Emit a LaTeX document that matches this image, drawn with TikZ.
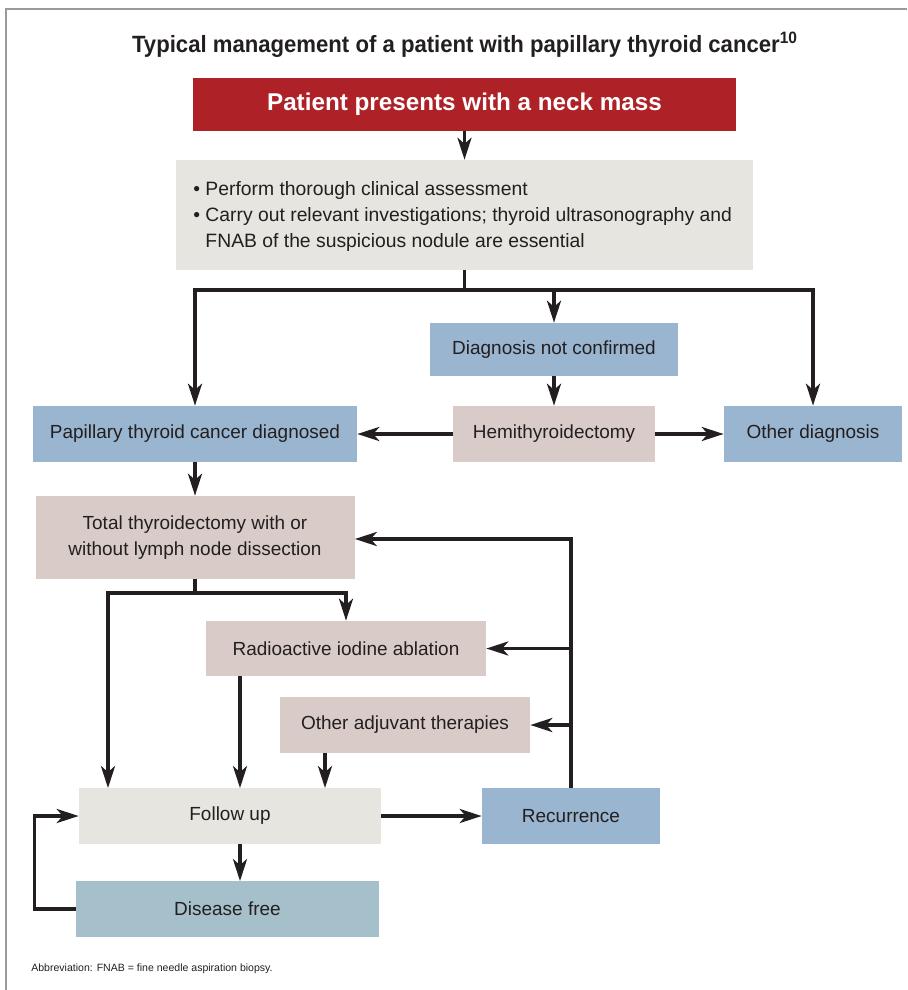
\documentclass[tikz,border=0pt]{standalone}
\usepackage{fontspec}
\setmainfont{Liberation Sans}
\newfontfamily\headfont{Liberation Sans}[FakeStretch=0.94]
\usetikzlibrary{arrows.meta}

\definecolor{ink}{HTML}{231F20}
\definecolor{alarm}{HTML}{AE2127}
\definecolor{stone}{HTML}{E6E5DF}
\definecolor{slate}{HTML}{9AB5CF}
\definecolor{blush}{HTML}{D9CCC8}
\definecolor{teal}{HTML}{A6C0CB}
\definecolor{frame}{HTML}{9A9A9A}

\tikzset{
  box/.style 2 args={draw=none, inner sep=0pt, align=center, text=ink,
    minimum width=#1*0.02cm, minimum height=#2*0.02cm,
    font=\fontsize{10.8}{15}\selectfont},
  link/.style={draw=ink, line width=1.9pt},
  arr/.style={link, -{Stealth[length=12.5pt,width=8pt,inset=3.5pt]}}
}

\begin{document}
\begin{tikzpicture}[x=0.02cm, y=-0.02cm]
  \useasboundingbox (0,0) rectangle (907,990);

  % Frame
    \draw[frame, line width=0.8pt] (6,990) -- (6,9) -- (907,9);

  % Title
    \node[text=ink, font=\headfont\bfseries\fontsize{13.4}{15}\selectfont] (title) at (465,45)
      {Typical management of a patient with papillary thyroid cancer\textsuperscript{10}};

  % Boxes
    \node[box={543}{53}, fill=alarm, text=white, font=\bfseries\fontsize{13.8}{15}\selectfont]
      (mass) at (464.5,104.5) {Patient presents with a neck mass};
    \node[box={577}{110}, fill=stone] (assess) at (464.5,215) {};
    \node[text=ink, anchor=west, inner sep=0pt, align=left,
      font=\fontsize{11}{15}\selectfont] (bullets) at (193,216.5)
      {\textbullet\ Perform thorough clinical assessment\\
       \textbullet\ Carry out relevant investigations; thyroid ultrasonography and\\
       \hphantom{\textbullet\ }FNAB of the suspicious nodule are essential};
    \node[box={248}{53}, fill=slate] (notconf) at (554,349.5) {Diagnosis not confirmed};
    \node[box={202}{56}, fill=blush] (hemi) at (554,434) {Hemithyroidectomy};
    \node[box={324}{56}, fill=slate] (ptc) at (195,434) {Papillary thyroid cancer diagnosed};
    \node[box={178}{56}, fill=slate] (otherdx) at (813,434) {Other diagnosis};
    \node[box={319}{83}, fill=blush] (total) at (195,537.5)
      {Total thyroidectomy with or\\ without lymph node dissection};
    \node[box={280}{55}, fill=blush] (rai) at (346,648.5) {Radioactive iodine ablation};
    \node[box={250}{56}, fill=blush] (adjuv) at (405,725) {Other adjuvant therapies};
    \node[box={302}{56}, fill=stone] (follow) at (230,816) {Follow up};
    \node[box={178}{56}, fill=slate] (recur) at (571,816) {Recurrence};
    \node[box={303}{56}, fill=teal] (free) at (227.5,909) {Disease free};

  % Footnote
    \node[text=ink, anchor=west, inner sep=0pt, font=\fontsize{6}{8}\selectfont]
      (abbrev) at (31,969) {Abbreviation: FNAB = fine needle aspiration biopsy.};

  % Connectors
    \coordinate (split) at (464.5,290);
    \coordinate (fork) at (195,593);
    \coordinate (rise) at (571,539);

    \draw[arr] (mass) -- (assess);
    \draw[link] (assess.south) -- (split);
    \draw[arr] (split) -| (ptc.north);
    \draw[arr] (split) -| (otherdx.north);
    \draw[arr] (split -| notconf.north) -- (notconf.north);
    \draw[arr] (notconf) -- (hemi);
    \draw[arr] (hemi) -- (ptc);
    \draw[arr] (hemi) -- (otherdx);
    \draw[arr] (ptc) -- (total);

    \draw[link] (total.south) -- (fork);
    \draw[arr] (fork) -| (rai.north);
    \draw[arr] (fork) -| (108,788);
    \draw[arr] (240,676) -- (240,788);
    \draw[arr] (325,753) -- (325,788);

    \draw[arr] (follow) -- (recur);
    \draw[arr] (recur.north) -- (rise) -- (total.east |- rise);
    \draw[arr] (rai.east -| rise) -- (rai.east);
    \draw[arr] (adjuv.east -| rise) -- (adjuv.east);

    \draw[arr] (240,844) -- (240,881);
    \draw[arr] (free.west) -- ++(-41,0) |- (follow.west);
\end{tikzpicture}
\end{document}
